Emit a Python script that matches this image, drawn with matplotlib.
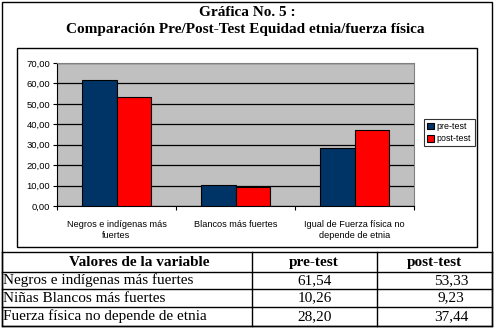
import matplotlib.pyplot as plt
import numpy as np

categories = ["Negros e indígenas más\nfuertes", "Blancos más fuertes",
              "Igual de Fuerza física no\ndepende de etnia"]
pre_test = [61.54, 10.26, 28.20]
post_test = [53.33, 9.23, 37.44]
row_labels = ["Negros e indígenas más fuertes", "Niñas Blancos más fuertes",
              "Fuerza física no depende de etnia"]
col_labels = ["Valores de la variable", "pre-test", "post-test"]

W, H = 495, 330
fig = plt.figure(figsize=(W / 100, H / 100), dpi=100)
fig.patch.set_facecolor("white")


def box(x0, y0, x1, y1):
    # pixel box -> figure rect
    return [x0 / W, 1 - y1 / H, (x1 - x0) / W, (y1 - y0) / H]


# page-level overlay axes in pixel coordinates
page = fig.add_axes([0, 0, 1, 1])
page.set_xlim(0, W)
page.set_ylim(H, 0)
page.axis("off")
page.add_patch(plt.Rectangle((2, 2), 490, 324, fill=False, ec="black", lw=1))
page.add_patch(plt.Rectangle((17, 48), 460, 199, fill=False, ec="black", lw=1))

serif = "Liberation Serif"
page.text(247, 13, "Gráfica No. 5 :", ha="center", va="center",
          family=serif, weight="bold", fontsize=11)
page.text(245, 30, "Comparación Pre/Post-Test Equidad etnia/fuerza física",
          ha="center", va="center", family=serif, weight="bold", fontsize=11)

# table
row_y = [252, 272, 289, 307, 326]
col_x = [2, 252, 377, 492]
for y in row_y:
    page.plot([2, 492], [y, y], color="black", lw=1)
for x in col_x:
    page.plot([x, x], [252, 326], color="black", lw=1)
head_x = [139, 314, 434]
for x, lab in zip(head_x, col_labels):
    page.text(x, 262.5, lab, ha="center", va="center", family=serif,
              weight="bold", fontsize=11)
for i, lab in enumerate(row_labels):
    yc = (row_y[i + 1] + row_y[i + 2]) / 2
    page.text(3, yc, lab, ha="left", va="center", family=serif, fontsize=11)
    page.text(315, yc, f"{pre_test[i]:.2f}".replace(".", ","), ha="center",
              va="center", family=serif, fontsize=11)
    page.text(451, yc, f"{post_test[i]:.2f}".replace(".", ","), ha="center",
              va="center", family=serif, fontsize=11)

# bar chart
ax = fig.add_axes(box(57, 63, 414, 206))
ax.set_facecolor("#C0C0C0")
x = np.arange(len(categories))
bw = 0.286
ax.bar(x - bw / 2, pre_test, bw, color="#003366", ec="black", lw=0.8,
       label="pre-test", zorder=3)
ax.bar(x + bw / 2, post_test, bw, color="#FF0000", ec="black", lw=0.8,
       label="post-test", zorder=3)
ax.set_xlim(-0.5, 2.5)
ax.set_ylim(0, 70)
ax.set_yticks(np.arange(0, 71, 10))
ax.set_yticklabels([f"{v:.2f}".replace(".", ",") for v in np.arange(0, 71, 10)],
                   family="Liberation Sans", fontsize=6.8)
ax.yaxis.grid(True, color="black", lw=0.9, zorder=1)
ax.set_xticks([-0.5, 0.5, 1.5, 2.5])
ax.set_xticklabels([])
ax.set_xticks(x, minor=True)
ax.set_xticklabels(categories, minor=True, family="Liberation Sans",
                   fontsize=6.6, linespacing=1.25)
ax.tick_params(axis="x", which="minor", length=0, pad=10)
ax.tick_params(axis="both", which="major", length=3, width=0.8, pad=2)
for s in ["top", "right"]:
    ax.spines[s].set_color("#808080")
for s in ["left", "bottom"]:
    ax.spines[s].set_color("black")

leg = fig.legend(loc="upper left", bbox_to_anchor=(424 / W, 1 - 119 / H),
                 prop={"family": "Liberation Sans", "size": 6.4},
                 frameon=True, fancybox=False, edgecolor="black",
                 handlelength=0.8, handleheight=0.8, handletextpad=0.3,
                 borderpad=0.35, labelspacing=0.35, borderaxespad=0)
leg.get_frame().set_linewidth(0.8)

fig.savefig("out.png", dpi=100)
